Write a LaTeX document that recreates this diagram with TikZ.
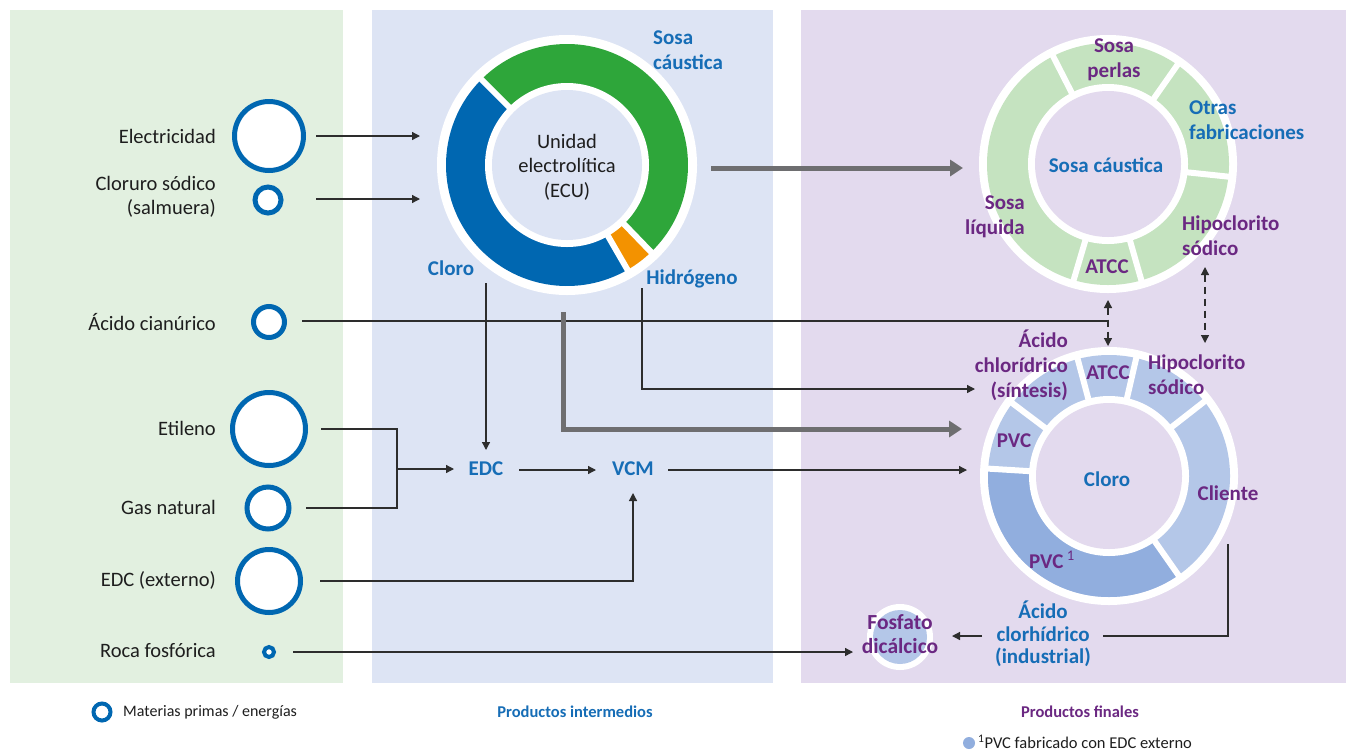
\documentclass[tikz,border=0pt]{standalone}
\usepackage{fontspec}
\setmainfont{Carlito}
\usetikzlibrary{arrows.meta}
\definecolor{bgG}{RGB}{226,240,224}
\definecolor{bgB}{RGB}{221,228,244}
\definecolor{bgP}{RGB}{227,218,238}
\definecolor{rBlue}{RGB}{0,103,177}
\definecolor{rGreen}{RGB}{46,166,58}
\definecolor{rOrange}{RGB}{243,146,0}
\definecolor{tBlue}{RGB}{22,109,182}
\definecolor{tPurple}{RGB}{107,40,130}
\definecolor{sGreen}{RGB}{197,227,192}
\definecolor{sBlue}{RGB}{180,199,232}
\definecolor{sBlueD}{RGB}{145,174,222}
\definecolor{aGray}{RGB}{110,110,112}
\definecolor{lGray}{RGB}{45,45,45}
\definecolor{tBlack}{RGB}{30,30,30}
\newcommand\annseg[5]{\fill[#5] (#1) -- ++(#2:#4) arc[start angle=#2, end angle=#3, radius=#4] -- cycle;}
\tikzset{
  rawmat/.style={circle, draw=rBlue, line width=5pt, fill=white, inner sep=0pt},
  lab/.style={font=\fontsize{20.5}{24.5}\selectfont, text=tBlack, inner sep=0pt},
  blab/.style={font=\bfseries\fontsize{21}{25}\selectfont, text=tBlue, inner sep=0pt},
  plab/.style={font=\bfseries\fontsize{21}{25}\selectfont, text=tPurple, inner sep=0pt},
  conn/.style={draw=lGray, line width=1.3pt, -{Triangle[length=8pt,width=8pt]}},
  plainline/.style={draw=lGray, line width=1.3pt},
  bigarrow/.style={draw=aGray, line width=5pt, -{Triangle[length=13pt,width=16pt]}},
  dashconn/.style={draw=lGray, line width=1.3pt, dash pattern=on 7pt off 5pt, {Triangle[length=8pt,width=8pt]}-{Triangle[length=8pt,width=8pt]}},
  gapline/.style={draw=white, line width=6pt},
}
\begin{document}
\begin{tikzpicture}[x=1pt,y=-1pt]
\useasboundingbox (0,0) rectangle (1356,753);
\fill[white] (0,0) rectangle (1356,753);
% panels
\fill[bgG] (10,10) rectangle (343,683);
\fill[bgB] (372,10) rectangle (773,683);
\fill[bgP] (801,10) rectangle (1346,683);

% raw materials
\node[rawmat, minimum size=69pt] (elec) at (269,136) {};
\node[rawmat, minimum size=26pt] (nacl) at (268,200) {};
\node[rawmat, minimum size=31pt] (cian) at (269,322) {};
\node[rawmat, minimum size=73pt] (etil) at (269,429) {};
\node[rawmat, minimum size=42pt] (gas) at (268,508) {};
\node[rawmat, minimum size=63pt] (edcx) at (269,581) {};
\node[rawmat, minimum size=10pt, line width=4pt] (roca) at (269,652) {};

\node[lab, anchor=east] (lelec) at (216,136) {Electricidad};
\node[lab, anchor=east, align=right] (lnacl) at (216,197) {Cloruro sódico\\(salmuera)};
\node[lab, anchor=east] (lcian) at (216,322) {Ácido cianúrico};
\node[lab, anchor=east] (letil) at (216,428) {Etileno};
\node[lab, anchor=east] (lgas) at (216,507) {Gas natural};
\node[lab, anchor=east] (ledcx) at (216,580) {EDC (externo)};
\node[lab, anchor=east] (lroca) at (216,651) {Roca fosfórica};

% ECU ring
\coordinate (ecuC) at (567,165);
\fill[white] (ecuC) circle[radius=130pt];
\annseg{ecuC}{-46}{135}{121pt}{rGreen}
\annseg{ecuC}{135}{300}{121pt}{rBlue}
\annseg{ecuC}{-60}{-46}{121pt}{rOrange}
\foreach \a in {135,-46,-60} \draw[gapline] (ecuC) -- ++(\a:123pt);
\fill[white] (ecuC) circle[radius=82pt];
\fill[bgB] (ecuC) circle[radius=75pt];
\node[lab, align=center] (ecu) at (567,167) {Unidad\\electrolítica\\(ECU)};
\node[blab, anchor=west, align=left] (lsosa) at (653,50) {Sosa\\cáustica};
\node[blab] (lcloro) at (451,268) {Cloro};
\node[blab] (lhidro) at (692,279) {Hidrógeno};

% intermediates
\node[blab] (edc) at (486,469) {EDC};
\node[blab] (vcm) at (633,469) {VCM};

% Sosa caustica ring
\coordinate (sosaC) at (1108,164);
\fill[white] (sosaC) circle[radius=129pt];
\fill[sGreen] (sosaC) circle[radius=121pt];
\foreach \a in {117,55,-6,-74,-106.5} \draw[gapline] (sosaC) -- ++(\a:123pt);
\fill[white] (sosaC) circle[radius=80pt];
\fill[bgP] (sosaC) circle[radius=73pt];
\node[blab] (sosa) at (1106,165) {Sosa cáustica};
\node[plab, align=center] (sperl) at (1114,60) {Sosa\\perlas};
\node[blab, anchor=west, align=left] (sotras) at (1189,120) {Otras\\fabricaciones};
\node[plab, anchor=east, align=right] (sliq) at (1025,217) {Sosa\\líquida};
\node[plab] (satcc) at (1107,267) {ATCC};
\node[plab, anchor=west, align=left] (shipo) at (1182,236) {Hipoclorito\\sódico};

% Cloro ring
\coordinate (cloC) at (1109,476);
\fill[white] (cloC) circle[radius=129pt];
\fill[sBlue] (cloC) circle[radius=121pt];
\annseg{cloC}{176.5}{305}{121pt}{sBlueD}
\foreach \a in {105,77,38,-55,176.5,143} \draw[gapline] (cloC) -- ++(\a:123pt);
\fill[white] (cloC) circle[radius=80pt];
\fill[bgP] (cloC) circle[radius=73pt];
\node[blab] (cloro) at (1107,479) {Cloro};
\node[plab, anchor=east, align=right] (cacid) at (1068,365) {Ácido\\chlorídrico\\(síntesis)};
\node[plab] (catcc) at (1108,373) {ATCC};
\node[plab, anchor=west, align=left] (chipo) at (1148,375) {Hipoclorito\\sódico};
\node[plab] (cpvc) at (1014,441) {PVC};
\node[plab] (ccli) at (1228,493) {Cliente};
\node[plab] (cpvc1) at (1052,560) {PVC\,\textsuperscript{\mdseries 1}};
\node[blab, align=center, font=\bfseries\fontsize{21}{22.5}\selectfont] (hcl) at (1043,634) {Ácido\\clorhídrico\\(industrial)};

% Fosfato
\coordinate (fosC) at (900,637);
\fill[white] (fosC) circle[radius=33pt];
\fill[sBlue] (fosC) circle[radius=27pt];
\node[plab, align=center, font=\bfseries\fontsize{21.5}{24}\selectfont] (fos) at (900,634) {Fosfato\\dicálcico};

% connector end points
\coordinate (elecO) at (316,136); \coordinate (ecuI1) at (420,136);
\coordinate (naclO) at (316,199); \coordinate (ecuI2) at (420,199);
\coordinate (cianO) at (302,321); \coordinate (cianE) at (1108,321);
\coordinate (atccU) at (1108,300); \coordinate (atccD) at (1108,346);
\coordinate (hipoU) at (1205,267); \coordinate (hipoD) at (1205,343);
\coordinate (cloroO) at (486,283); \coordinate (edcI) at (486,450);
\coordinate (etilO) at (321,429); \coordinate (gasO) at (306,508);
\coordinate (jn) at (397,469); \coordinate (edcL) at (454,469);
\coordinate (edcR) at (519,470); \coordinate (vcmL) at (596,470);
\coordinate (vcmR) at (668,470); \coordinate (cloI) at (967,470);
\coordinate (edcxO) at (320,581); \coordinate (vcmB) at (633,493);
\coordinate (rocaO) at (293,652); \coordinate (fosI) at (853,652);
\coordinate (hidO) at (642,288); \coordinate (acidI) at (975,389);
\coordinate (ecuB) at (563,312); \coordinate (cloI2) at (962,429);
\coordinate (ecuR) at (711,168); \coordinate (sosaI) at (963,168);
\coordinate (cliO) at (1228,544); \coordinate (hclR) at (1103,636);
\coordinate (hclL) at (982,636); \coordinate (fosR) at (952,636);

% connectors
\draw[conn] (elecO) -- (ecuI1);
\draw[conn] (naclO) -- (ecuI2);
\draw[plainline] (cianO) -- (cianE);
\draw[dashconn] (atccU) -- (atccD);
\draw[dashconn] (hipoU) -- (hipoD);
\draw[conn] (cloroO) -- (edcI);
\draw[plainline] (etilO) -| (jn) |- (gasO);
\draw[conn] (jn) -- (edcL);
\draw[conn] (edcR) -- (vcmL);
\draw[conn] (vcmR) -- (cloI);
\draw[conn] (edcxO) -| (vcmB);
\draw[conn] (rocaO) -- (fosI);
\draw[conn] (hidO) |- (acidI);
\draw[bigarrow] (ecuB) |- (cloI2);
\draw[bigarrow] (ecuR) -- (sosaI);
\draw[plainline] (cliO) |- (hclR);
\draw[conn] (hclL) -- (fosR);

% legend
\node[rawmat, minimum size=17pt, line width=4pt] (legring) at (102,712) {};
\node[anchor=west, inner sep=0pt, text=tBlack, font=\fontsize{16}{18}\selectfont] (legtxt) at (123,712) {Materias primas / energías};
\node[inner sep=0pt, text=tBlue, font=\bfseries\fontsize{16.5}{19}\selectfont] (legint) at (575,712) {Productos intermedios};
\node[inner sep=0pt, text=tPurple, font=\bfseries\fontsize{16.5}{19}\selectfont] (legfin) at (1080,712) {Productos finales};
\node[circle, fill=sBlueD, minimum size=12pt, inner sep=0pt] (fndot) at (969,743) {};
\node[anchor=west, inner sep=0pt, text=tBlack, font=\fontsize{16.5}{18}\selectfont] (fn) at (978,742) {\textsuperscript{1}PVC fabricado con EDC externo};
\end{tikzpicture}
\end{document}
